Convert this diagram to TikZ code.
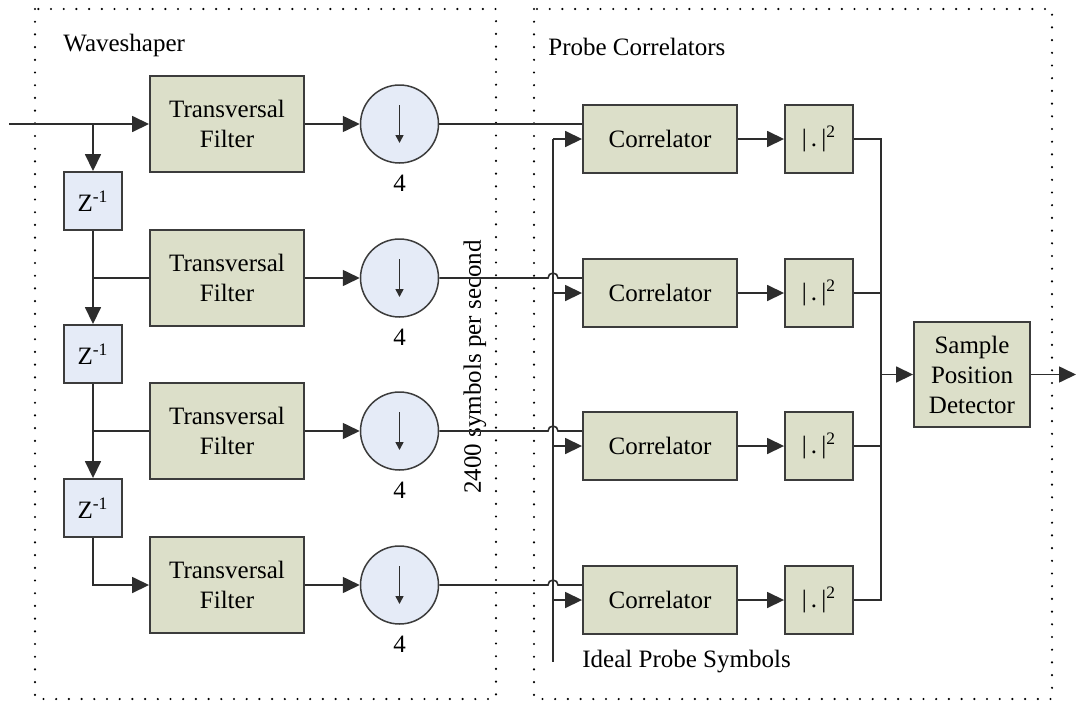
\documentclass[tikz,border=0pt]{standalone}
\usepackage{fontspec}
\setmainfont{Liberation Serif}
\usetikzlibrary{arrows.meta,calc}

\definecolor{filterfill}{RGB}{220,223,201}
\definecolor{delayfill}{RGB}{229,235,247}
\definecolor{edge}{RGB}{60,60,60}
\definecolor{wirecol}{RGB}{45,45,45}

\begin{document}
\begin{tikzpicture}[x=0.5pt,y=-0.5pt,
  font=\fontsize{12.5}{15}\selectfont,
  blk/.style={draw=edge,line width=0.95pt,fill=filterfill,inner sep=0pt,align=center},
  filt/.style={blk,minimum width=77pt,minimum height=48pt},
  corr/.style={blk,minimum width=77pt,minimum height=34pt},
  mag/.style={blk,minimum width=34pt,minimum height=34pt},
  delay/.style={draw=edge,line width=0.95pt,fill=delayfill,inner sep=0pt,minimum size=29pt},
  down/.style={circle,draw=edge,line width=0.75pt,fill=delayfill,inner sep=0pt,minimum size=39pt},
  wire/.style={draw=wirecol,line width=0.8pt},
  arr/.style={wire,-{Triangle[length=8.5pt,width=8pt]}},
  frame/.style={line width=1.2pt,dash pattern=on 0pt off 6.35pt,line cap=round},
  lbl/.style={inner sep=0pt}
]
% canvas
\fill[white] (0,0) rectangle (1076,702);
\useasboundingbox (0,0) rectangle (1076,702);

% dotted group frames
\draw[frame] (35,9) rectangle (496,699);
\draw[frame] (534,9) rectangle (1052,699);
\node[lbl,anchor=west] (wstitle) at (63,45) {Waveshaper};
\node[lbl,anchor=west] (pctitle) at (548,47) {Probe Correlators};

% four parallel branches
\foreach \i/\y in {1/124,2/278,3/431,4/585}{
  \node[filt] (f\i) at (227,\y) {Transversal\\Filter};
  \node[down] (d\i) at (399.5,\y) {};
  \node[lbl] (n\i) at (399.5,\y+59) {4};
  \node[corr] (c\i) at (660,\y+15) {Correlator};
  \node[mag] (s\i) at (819,\y+15) {|\,.\,|\textsuperscript{2}};
  \draw[wire,-{Triangle[length=4pt,width=4pt]}] ([yshift=9.5pt]d\i.center) -- ([yshift=-9.5pt]d\i.center);
  \draw[arr] (f\i) -- (d\i);
  \draw[arr] (c\i) -- (s\i);
}

% delay chain
\node[delay] (z1) at (93,201) {Z\textsuperscript{-1}};
\node[delay] (z2) at (93,354) {Z\textsuperscript{-1}};
\node[delay] (z3) at (93,508) {Z\textsuperscript{-1}};

\coordinate (in) at (9,124);
\draw[arr] (in) -- (f1.west);
\draw[arr] (z1.north |- f1.west) -- (z1.north);
\draw[wire] (z1.south) |- (f2.west);
\draw[arr] (z2.north |- f2.west) -- (z2.north);
\draw[wire] (z2.south) |- (f3.west);
\draw[arr] (z3.north |- f3.west) -- (z3.north);
\draw[arr] (z3.south) |- (f4.west);

% rate label
\node[rotate=90] (rate) at (475,367) {2400 symbols per second};

% ideal probe symbol line
\coordinate (ptop) at (553,139);
\coordinate (pbot) at (553,662);
\draw[wire] (ptop) -- (pbot);
\node[lbl,anchor=west] (ideal) at (582,662) {Ideal Probe Symbols};
\foreach \i in {1,...,4}{
  \draw[arr] (c\i.west -| ptop) -- (c\i.west);
}

% decimated signals into the correlators, hopping over the probe line
\draw[wire] (d1) -- (c1.west |- d1.east);
\foreach \i in {2,3,4}{
  \draw[wire] (d\i.east) -- ($(d\i.east -| ptop)+(-5,0)$)
    arc[start angle=180,end angle=0,radius=2.5pt] -- (c\i.west |- d\i.east);
}

% detector
\node[blk,minimum width=58pt,minimum height=52.5pt] (spd) at (972,374.5) {Sample\\Position\\Detector};
\coordinate (bus) at (881,374.5);
\foreach \i in {1,...,4}{
  \draw[wire] (s\i.east) -| (bus);
}
\draw[arr] (bus) -- (spd.west);
\coordinate (out) at (1076,374.5);
\draw[arr] (spd.east) -- (out);
\end{tikzpicture}
\end{document}
